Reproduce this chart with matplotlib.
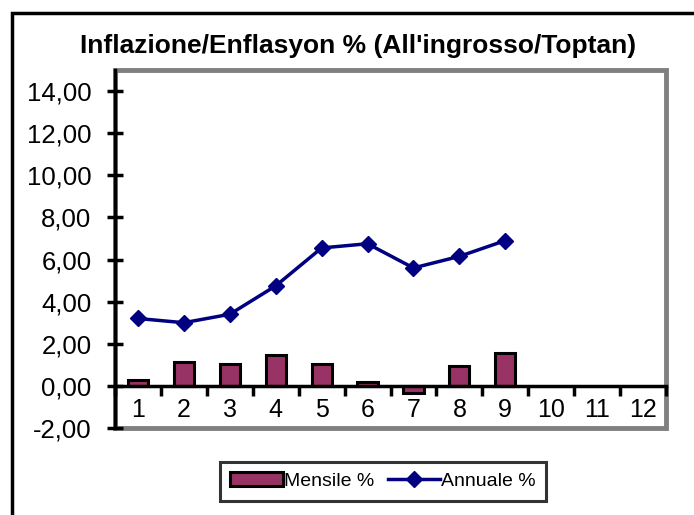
import matplotlib
matplotlib.use('Agg')
import matplotlib.pyplot as plt
from matplotlib.patches import Rectangle
from matplotlib.ticker import FuncFormatter, FixedLocator

# monthly / annual wholesale inflation (%)
MONTHS = [1, 2, 3, 4, 5, 6, 7, 8, 9, 10, 11, 12]
MENSILE = [0.28, 1.15, 1.05, 1.45, 1.05, 0.2, -0.35, 0.95, 1.55]
ANNUALE = [3.2, 3.0, 3.4, 4.75, 6.55, 6.75, 5.6, 6.15, 6.9]
Y_TICKS = [-2, 0, 2, 4, 6, 8, 10, 12, 14]

plt.rcParams['font.family'] = ['Liberation Sans', 'DejaVu Sans']

fig = plt.figure(figsize=(6.94, 5.15), dpi=100)
ax = fig.add_axes([115 / 694, 1 - 428 / 515, (666 - 115) / 694, (428 - 70) / 515])

x_data = MONTHS[:len(MENSILE)]
bars = ax.bar(x_data, MENSILE, width=0.44, color='#993366', edgecolor='black',
              linewidth=2.2, label='Mensile %', zorder=2)
line, = ax.plot(MONTHS[:len(ANNUALE)], ANNUALE, color='#000080', linewidth=2.5,
                marker='D', markersize=8.5, label='Annuale %', zorder=3)

ax.set_xlim(0.5, 12.5)
ax.set_ylim(-2, 15)

# gray plot frame, black axis lines
ax.patch.set_edgecolor('#808080')
ax.patch.set_linewidth(3.5)
ax.spines['top'].set_visible(False)
ax.spines['right'].set_visible(False)
ax.spines['left'].set_linewidth(2.5)
ax.spines['bottom'].set_position(('data', 0))
ax.spines['bottom'].set_linewidth(2.5)
ax.spines['bottom'].set_zorder(4)

ax.yaxis.set_major_locator(FixedLocator(Y_TICKS))
ax.yaxis.set_major_formatter(FuncFormatter(lambda v, p: f'{v:.2f}'.replace('.', ',')))
ax.tick_params(axis='y', direction='inout', length=12, width=2.5, labelsize=18.5, pad=11)

ax.set_xticks([m + 0.5 for m in [0] + MONTHS])
ax.set_xticklabels([])
ax.tick_params(axis='x', which='major', direction='out', length=7, width=2.5)
ax.set_xticks(MONTHS, minor=True)
ax.set_xticklabels([str(m) for m in MONTHS], minor=True)
ax.tick_params(axis='x', which='minor', length=0, labelsize=18, pad=9)

fig.text(0.516, 0.91, "Inflazione/Enflasyon % (All'ingrosso/Toptan)",
         ha='center', va='center', fontsize=19, fontweight='bold')

leg = fig.legend([bars, line], ['Mensile %', 'Annuale %'], loc='center',
                 bbox_to_anchor=(0.552, 0.066), ncol=2,
                 fontsize=14, frameon=True, fancybox=False, edgecolor='black',
                 handlelength=2.7, handletextpad=0.05, columnspacing=0.7,
                 borderpad=0.55)
leg.get_frame().set_linewidth(2.2)

# outer chart border
fig.patches.append(Rectangle((12 / 694, -0.1), 1.1, 0.975 + 0.1, transform=fig.transFigure,
                             fill=False, edgecolor='black', linewidth=2.5))

fig.savefig('out.png', dpi=100)
